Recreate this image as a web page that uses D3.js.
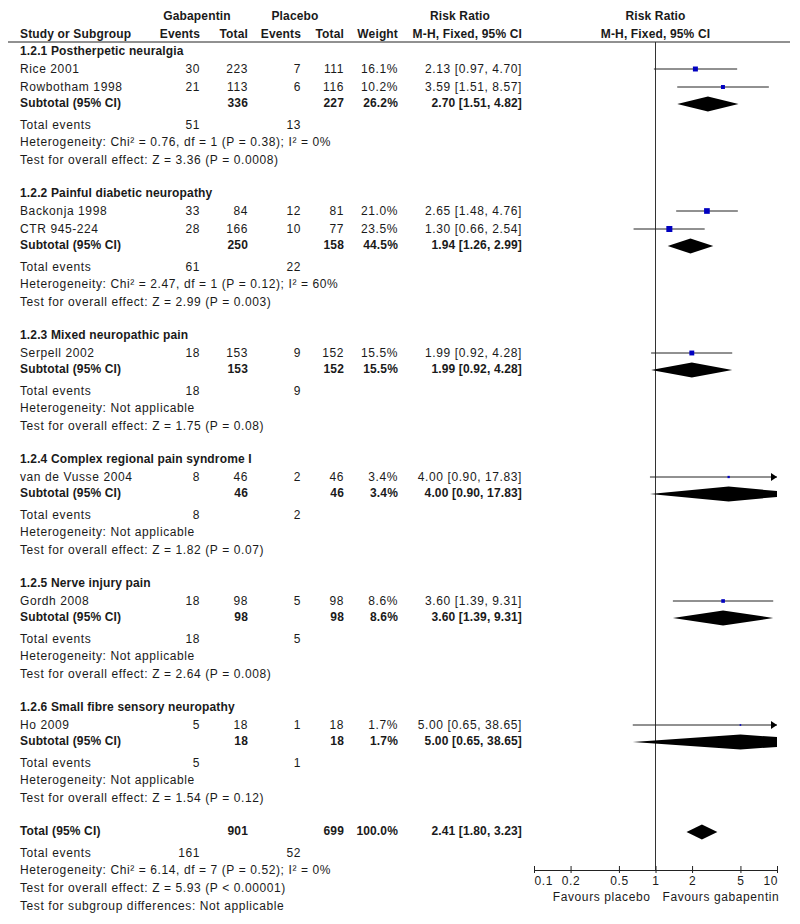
<!DOCTYPE html>
<html>
<head>
<meta charset="utf-8">
<script src="https://cdn.jsdelivr.net/npm/d3@7"></script>
<style>
  body { margin: 0; background: #fff; }
  text { font-family: Arial, "Liberation Sans", sans-serif; font-size: 12px; fill: #1a1a1a; letter-spacing: 0.6px; }
  .b { font-weight: bold; letter-spacing: 0.15px; }
</style>
</head>
<body>
<div id="chart"></div>
<script>
// data
var groupTitles = ["1.2.1 Postherpetic neuralgia", "1.2.2 Painful diabetic neuropathy", "1.2.3 Mixed neuropathic pain",
  "1.2.4 Complex regional pain syndrome I", "1.2.5 Nerve injury pain", "1.2.6 Small fibre sensory neuropathy"];
var studyNames = ["Rice 2001", "Rowbotham 1998", "Backonja 1998", "CTR 945-224", "Serpell 2002", "van de Vusse 2004", "Gordh 2008", "Ho 2009"];
var studyGroup = [0, 0, 1, 1, 2, 3, 4, 5];
var gabEvents = [30, 21, 33, 28, 18, 8, 18, 5];
var gabTotal = [223, 113, 84, 166, 153, 46, 98, 18];
var plaEvents = [7, 6, 12, 10, 9, 2, 5, 1];
var plaTotal = [111, 116, 81, 77, 152, 46, 98, 18];
var studyWeight = [16.1, 10.2, 21.0, 23.5, 15.5, 3.4, 8.6, 1.7];
var studyRR = [2.13, 3.59, 2.65, 1.30, 1.99, 4.00, 3.60, 5.00];
var studyLo = [0.97, 1.51, 1.48, 0.66, 0.92, 0.90, 1.39, 0.65];
var studyHi = [4.70, 8.57, 4.76, 2.54, 4.28, 17.83, 9.31, 38.65];

var subGabTotal = [336, 250, 153, 46, 98, 18];
var subPlaTotal = [227, 158, 152, 46, 98, 18];
var subGabEvents = [51, 61, 18, 8, 18, 5];
var subPlaEvents = [13, 22, 9, 2, 5, 1];
var subWeight = [26.2, 44.5, 15.5, 3.4, 8.6, 1.7];
var subRR = [2.70, 1.94, 1.99, 4.00, 3.60, 5.00];
var subLo = [1.51, 1.26, 0.92, 0.90, 1.39, 0.65];
var subHi = [4.82, 2.99, 4.28, 17.83, 9.31, 38.65];
var hetText = ["Heterogeneity: Chi\u00b2 = 0.76, df = 1 (P = 0.38); I\u00b2 = 0%",
  "Heterogeneity: Chi\u00b2 = 2.47, df = 1 (P = 0.12); I\u00b2 = 60%",
  "Heterogeneity: Not applicable", "Heterogeneity: Not applicable",
  "Heterogeneity: Not applicable", "Heterogeneity: Not applicable"];
var effectText = ["Test for overall effect: Z = 3.36 (P = 0.0008)", "Test for overall effect: Z = 2.99 (P = 0.003)",
  "Test for overall effect: Z = 1.75 (P = 0.08)", "Test for overall effect: Z = 1.82 (P = 0.07)",
  "Test for overall effect: Z = 2.64 (P = 0.008)", "Test for overall effect: Z = 1.54 (P = 0.12)"];

var totalGab = [901, 161];   // total, events
var totalPla = [699, 52];
var totalEst = [100.0, 2.41, 1.80, 3.23];   // weight, rr, lo, hi
var totalNotes = ["Heterogeneity: Chi\u00b2 = 6.14, df = 7 (P = 0.52); I\u00b2 = 0%",
  "Test for overall effect: Z = 5.93 (P < 0.00001)",
  "Test for subgroup differences: Not applicable"];

var tickValues = [0.1, 0.2, 0.5, 1, 2, 5, 10];
var tickLabels = ["0.1", "0.2", "0.5", "1", "2", "5", "10"];
var favours = ["Favours placebo", "Favours gabapentin"];

// layout
var W = 800, H = 924;
var col = {name: 20, gE: 200, gN: 248, pE: 301, pN: 344, wt: 398, rr: 522};
var axisY = 870, headTop = 42;

var svg = d3.select("#chart").append("svg").attr("width", W).attr("height", H);

var x = d3.scaleLog().domain([0.1, 10]).range([534, 777]);
var sq = d3.scaleSqrt().domain([0, 25]).range([0, 6.2]);

function ci(r, l, h) { return r.toFixed(2) + " [" + l.toFixed(2) + ", " + h.toFixed(2) + "]"; }

function txt(xp, yp, s, anchor, bold) {
  svg.append("text").attr("x", xp).attr("y", yp).attr("dy", "0.35em")
    .attr("text-anchor", anchor || "start").attr("class", bold ? "b" : null).text(s);
}

// header
txt(197, 16, "Gabapentin", "middle", true);
txt(295, 16, "Placebo", "middle", true);
txt(460, 16, "Risk Ratio", "middle", true);
txt(x(1), 16, "Risk Ratio", "middle", true);
txt(col.name, 34, "Study or Subgroup", "start", true);
txt(col.gE, 34, "Events", "end", true);
txt(col.gN, 34, "Total", "end", true);
txt(col.pE, 34, "Events", "end", true);
txt(col.pN, 34, "Total", "end", true);
txt(col.wt, 34, "Weight", "end", true);
txt(col.rr, 34, "M-H, Fixed, 95% CI", "end", true);
txt(x(1), 34, "M-H, Fixed, 95% CI", "middle", true);
svg.append("line").attr("x1", 8).attr("x2", 790).attr("y1", headTop).attr("y2", headTop)
  .attr("stroke", "#222").attr("stroke-width", 1);

// line of no effect
svg.append("line").attr("x1", x(1)).attr("x2", x(1)).attr("y1", headTop).attr("y2", axisY)
  .attr("stroke", "#333").attr("stroke-width", 1);

svg.append("clipPath").attr("id", "plotclip").append("rect")
  .attr("x", x(0.1)).attr("y", 0).attr("width", x(10) - x(0.1)).attr("height", H);
var marks = svg.append("g");

function diamond(yc, r, l, h) {
  var pts = [[x(l), yc], [x(r), yc - 7.5], [x(h), yc], [x(r), yc + 7.5]];
  marks.append("path").attr("d", "M" + pts.join("L") + "Z").attr("fill", "#000")
    .attr("clip-path", "url(#plotclip)");
}

function study(yc, i) {
  var l = Math.max(studyLo[i], 0.1), h = Math.min(studyHi[i], 10);
  marks.append("line").attr("x1", x(l)).attr("x2", x(h)).attr("y1", yc).attr("y2", yc)
    .attr("stroke", "#222").attr("stroke-width", 1);
  if (studyHi[i] > 10) {
    marks.append("path").attr("d", "M" + x(10) + "," + yc + "l-6,-4l0,8Z").attr("fill", "#000");
  }
  var s = sq(studyWeight[i]);
  marks.append("rect").attr("x", x(studyRR[i]) - s / 2).attr("y", yc - s / 2)
    .attr("width", s).attr("height", s).attr("fill", "#0000c0");
}

var y = 51;
groupTitles.forEach(function(g, gi) {
  txt(col.name, y, g, "start", true);
  studyNames.forEach(function(n, i) {
    if (studyGroup[i] !== gi) return;
    y += 18;
    txt(col.name, y, n);
    txt(col.gE, y, gabEvents[i], "end");
    txt(col.gN, y, gabTotal[i], "end");
    txt(col.pE, y, plaEvents[i], "end");
    txt(col.pN, y, plaTotal[i], "end");
    txt(col.wt, y, studyWeight[i].toFixed(1) + "%", "end");
    txt(col.rr, y, ci(studyRR[i], studyLo[i], studyHi[i]), "end");
    study(y, i);
  });
  y += 16;
  txt(col.name, y, "Subtotal (95% CI)", "start", true);
  txt(col.gN, y, subGabTotal[gi], "end", true);
  txt(col.pN, y, subPlaTotal[gi], "end", true);
  txt(col.wt, y, subWeight[gi].toFixed(1) + "%", "end", true);
  txt(col.rr, y, ci(subRR[gi], subLo[gi], subHi[gi]), "end", true);
  diamond(y + 1, subRR[gi], subLo[gi], subHi[gi]);
  y += 21.5;
  txt(col.name, y, "Total events");
  txt(col.gE, y, subGabEvents[gi], "end");
  txt(col.pE, y, subPlaEvents[gi], "end");
  y += 17.5;
  txt(col.name, y, hetText[gi]);
  y += 18;
  txt(col.name, y, effectText[gi]);
  y += 33;
});

// overall
txt(col.name, y, "Total (95% CI)", "start", true);
txt(col.gN, y, totalGab[0], "end", true);
txt(col.pN, y, totalPla[0], "end", true);
txt(col.wt, y, totalEst[0].toFixed(1) + "%", "end", true);
txt(col.rr, y, ci(totalEst[1], totalEst[2], totalEst[3]), "end", true);
diamond(y + 1, totalEst[1], totalEst[2], totalEst[3]);
y += 21.5;
txt(col.name, y, "Total events");
txt(col.gE, y, totalGab[1], "end");
txt(col.pE, y, totalPla[1], "end");
totalNotes.forEach(function(t, i) {
  y += (i === 0 ? 17.5 : 18);
  txt(col.name, y, t);
});

// axis
var axis = d3.axisBottom(x).tickValues(tickValues)
  .tickFormat(function(d, i) { return tickLabels[i]; })
  .tickSizeOuter(0).tickSizeInner(3).tickPadding(3);
var ax = svg.append("g").attr("transform", "translate(0," + axisY + ")").call(axis);
ax.select(".domain").attr("stroke", "#222");
ax.selectAll(".tick line").attr("y1", -4).attr("y2", 3).attr("stroke", "#222");
ax.selectAll(".tick text").style("font-family", "Arial, 'Liberation Sans', sans-serif")
  .style("font-size", "12px").attr("fill", "#1a1a1a")
  .attr("text-anchor", function(d, i) { return i === 0 ? "start" : (i === tickValues.length - 1 ? "end" : "middle"); })
  .attr("dx", function(d, i) { return i === tickValues.length - 1 ? "0.6" : null; });
txt(x(1) - 5, 897, favours[0], "end");
txt(x(1) + 7, 897, favours[1], "start");
</script>
</body>
</html>
